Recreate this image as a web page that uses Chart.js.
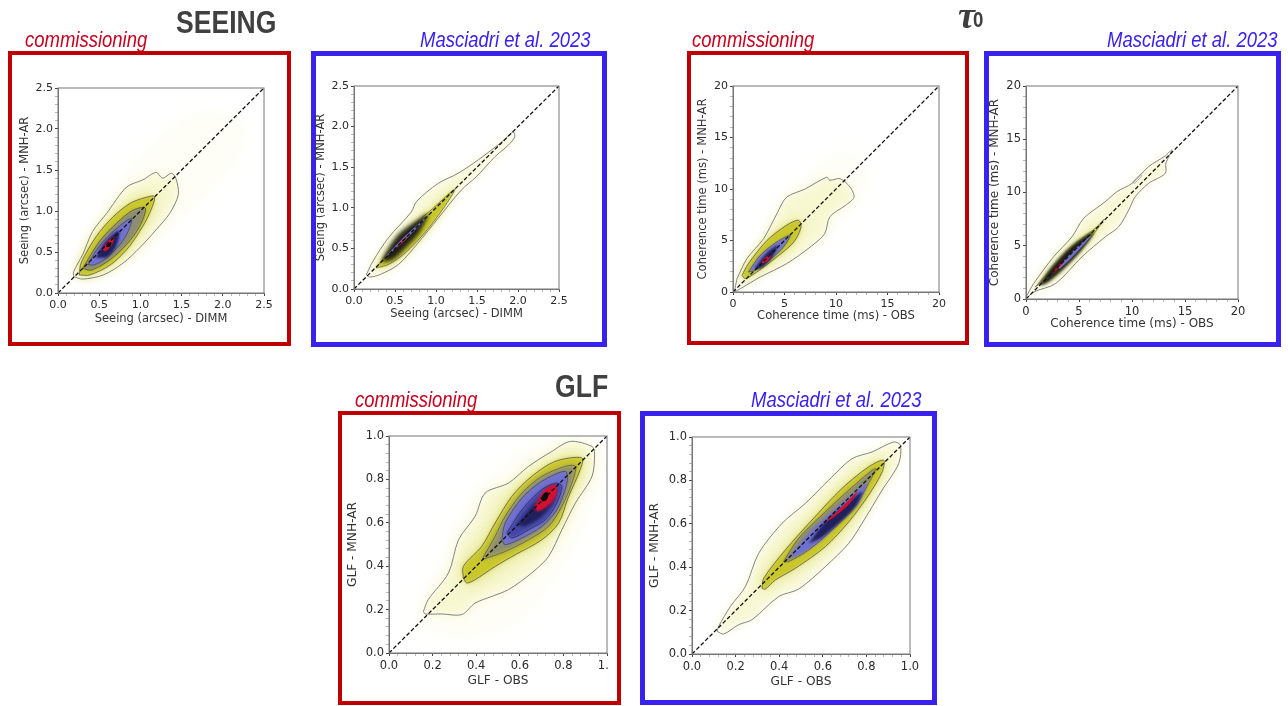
<!DOCTYPE html>
<html>
<head>
<meta charset="utf-8">
<script src="https://cdn.jsdelivr.net/npm/chart.js@4"></script>
<style>
html, body { margin: 0; padding: 0; background: #fff; width: 1288px; height: 706px; overflow: hidden; }
canvas { position: absolute; filter: blur(0.4px); }
.frame { position: absolute; box-sizing: border-box; background: #fff; }
.label { position: absolute; white-space: nowrap; transform-origin: left center; font-family: "Liberation Sans", Arial, sans-serif; line-height: 1; filter: blur(0.3px); }
.com { color: #c8001e; font-style: italic; font-size: 22px; transform: scaleX(0.84); }
.mas { color: #3a22ee; font-style: italic; font-size: 22px; transform: scaleX(0.84); }
.head { color: #404040; font-weight: bold; font-size: 32px; transform: scaleX(0.83); }
.tau { color: #404040; font-weight: bold; font-style: italic; font-size: 38px; font-family: "Liberation Serif", serif; }
.tau0 { color: #404040; font-weight: bold; font-size: 22px; transform: scaleX(0.85); }
</style>
</head>
<body>
<script>
// axis ticks
const seeingLabels = ["0.0", "0.5", "1.0", "1.5", "2.0", "2.5"];
const seeingTicks = [0, 0.5, 1, 1.5, 2, 2.5];
const tauLabels = ["0", "5", "10", "15", "20"];
const tauTicks = [0, 5, 10, 15, 20];
const glfLabels = ["0.0", "0.2", "0.4", "0.6", "0.8", "1.0"];
const glfTicks = [0, 0.2, 0.4, 0.6, 0.8, 1];

// contours, [obs, model]
// seeing, commissioning
const seeingComFaint = [[0.3,0.3],[0.6,1.2],[1.2,1.9],[1.7,2.25],[2.3,2.05],[2.2,1.6],[1.6,0.95],[1.0,0.4]];
const seeingComOuter = [[0.19,0.2],[0.19,0.26],[0.3,0.47],[0.42,0.75],[0.59,0.97],[0.83,1.29],[1.03,1.38],[1.19,1.47],[1.27,1.4],[1.375,1.46],[1.43,1.4],[1.46,1.2],[1.355,0.97],[1.19,0.77],[0.99,0.55],[0.79,0.365],[0.55,0.22],[0.3,0.17]];
const seeingComYellow = [[0.26,0.22],[0.28,0.365],[0.465,0.69],[0.67,0.93],[0.87,1.09],[1.03,1.155],[1.17,1.175],[1.11,0.97],[0.99,0.75],[0.83,0.525],[0.63,0.34],[0.385,0.22]];
const seeingComMid = [[0.3,0.3],[0.505,0.63],[0.71,0.85],[0.91,1.01],[1.06,1.035],[0.99,0.81],[0.83,0.59],[0.63,0.405],[0.405,0.28]];
const seeingComBlue = [[0.365,0.345],[0.485,0.55],[0.67,0.75],[0.89,0.91],[0.85,0.75],[0.75,0.59],[0.585,0.425],[0.445,0.345]];
const seeingComNavy = [[0.46,0.43],[0.57,0.62],[0.74,0.76],[0.71,0.58],[0.6,0.44]];
const seeingComRed = [[0.54,0.53],[0.61,0.64],[0.68,0.68],[0.66,0.6],[0.58,0.51]];
const seeingComCore = [[0.58,0.565],[0.63,0.615],[0.65,0.615],[0.63,0.565]];

// seeing, Masciadri
const seeingMasOuter = [[0.15,0.175],[0.23,0.34],[0.415,0.625],[0.7,0.95],[0.76,1.075],[1.025,1.3],[1.27,1.425],[1.515,1.59],[1.8,1.81],[1.94,1.935],[1.96,1.875],[1.88,1.77],[1.72,1.63],[1.49,1.38],[1.31,1.22],[1.025,0.87],[0.78,0.565],[0.54,0.3],[0.31,0.175],[0.19,0.147]];
const seeingMasYellow = [[0.27,0.26],[0.5,0.565],[0.7,0.77],[0.965,0.995],[1.23,1.23],[1.09,0.995],[0.86,0.69],[0.62,0.44],[0.415,0.3]];
const seeingMasDark = [[0.33,0.33],[0.42,0.5],[0.55,0.68],[0.75,0.83],[0.9,0.92],[0.8,0.7],[0.62,0.5],[0.47,0.36]];
const seeingMasBlue = [[0.36,0.37],[0.6,0.63],[0.9,0.9],[0.62,0.6]];
const seeingMasRed = [[0.5,0.5],[0.62,0.63],[0.66,0.66],[0.58,0.56]];

// tau0, commissioning
const tauComFaint = [[1.5,1.5],[4,8],[8,12.5],[11,14],[13.5,11.5],[11,7],[6,3]];
const tauComOuter = [[0.39,1.29],[1.35,3.24],[2.97,5.18],[4.26,7.6],[5.2,9.2],[7,10],[9.1,11.15],[9.4,10.85],[10.4,11],[11.35,10.2],[11.75,9.2],[10.9,8.4],[9.4,7.3],[8.9,5.66],[7.5,4.37],[5.2,2.75],[2.65,1.46],[0.7,0.32],[0.2,0.1]];
const tauComYellow = [[0.87,1.62],[1.5,2.75],[3.3,5],[5.2,6.47],[6.35,6.96],[6.6,6.3],[5.9,4.85],[4.25,3.4],[2.3,1.94],[1.2,1.3]];
const tauComBlue = [[1.5,1.94],[2.65,3.56],[4.25,4.85],[5.55,5.5],[4.75,4.2],[3.3,2.9],[2.15,2.1]];
const tauComNavy = [[2.1,2.3],[3.2,3.7],[4.3,4.5],[3.7,3.2],[2.7,2.3]];
const tauComRed = [[2.65,2.7],[3.1,3.3],[3.7,3.6],[3.3,2.95]];

// tau0, Masciadri
const tauMasOuter = [[0,0.19],[0.72,1.44],[2.6,3.96],[4.34,5.84],[5.44,7.57],[7.48,9.14],[8.58,10.08],[10,10.86],[11.57,12.43],[13.14,13.44],[13.77,14],[13.2,12.75],[13.14,11.8],[11.57,10.86],[10.3,9.6],[9.69,8.35],[8.74,6.78],[7.48,5.84],[5.28,3.96],[2.77,1.44],[0.72,0.66],[0.1,0.1]];
const tauMasYellow = [[0.88,1.13],[2.45,2.86],[4.34,4.9],[6.7,6.78],[7.33,7.47],[6.54,6.31],[4.97,4.43],[3.08,2.7],[1.5,1.6]];
const tauMasDark = [[1.2,1.3],[2.4,3],[4.2,4.9],[5.9,6.1],[6.4,6.2],[5,4.3],[3.2,2.5],[1.8,1.4]];
const tauMasBlue = [[3,3],[4.8,4.85],[6.2,6],[5,4.6],[3.2,2.85]];
const tauMasRed = [[2.4,2.45],[3.5,3.55],[3.7,3.6],[2.6,2.45]];
const tauMasIsland = [[10.1,11],[10.8,11.7],[10.9,11.55],[10.2,10.85]];

// GLF, commissioning
const glfComFaint = [[0.1,0.12],[0.25,0.5],[0.38,0.75],[0.62,0.95],[0.9,1],[1,0.9],[0.92,0.6],[0.75,0.3],[0.55,0.1],[0.3,0.05]];
const glfComOuter = [[0.158,0.192],[0.18,0.246],[0.273,0.369],[0.319,0.522],[0.395,0.63],[0.441,0.737],[0.548,0.783],[0.64,0.86],[0.747,0.929],[0.832,0.975],[0.931,0.952],[0.943,0.922],[0.931,0.814],[0.855,0.691],[0.793,0.568],[0.732,0.445],[0.655,0.369],[0.548,0.292],[0.472,0.261],[0.395,0.23],[0.334,0.177],[0.242,0.18],[0.165,0.18]];
const glfComYellow = [[0.341,0.346],[0.341,0.399],[0.426,0.492],[0.487,0.599],[0.564,0.722],[0.655,0.814],[0.763,0.883],[0.885,0.899],[0.877,0.845],[0.824,0.722],[0.778,0.599],[0.701,0.522],[0.579,0.453],[0.487,0.399],[0.395,0.338],[0.357,0.323]];
const glfComMid = [[0.426,0.43],[0.487,0.538],[0.533,0.63],[0.61,0.737],[0.701,0.814],[0.809,0.86],[0.855,0.86],[0.839,0.783],[0.793,0.676],[0.732,0.584],[0.64,0.522],[0.533,0.468]];
const glfComBlue = [[0.518,0.522],[0.533,0.599],[0.61,0.714],[0.701,0.791],[0.809,0.837],[0.816,0.783],[0.77,0.66],[0.701,0.584],[0.61,0.53],[0.533,0.499]];
const glfComDeep = [[0.541,0.553],[0.61,0.66],[0.701,0.753],[0.77,0.783],[0.793,0.768],[0.77,0.691],[0.717,0.614],[0.64,0.568],[0.564,0.53]];
const glfComNavy = [[0.587,0.591],[0.655,0.676],[0.732,0.745],[0.763,0.76],[0.755,0.699],[0.701,0.63],[0.625,0.584]];
const glfComRed = [[0.668,0.676],[0.701,0.737],[0.747,0.776],[0.77,0.768],[0.763,0.714],[0.717,0.668],[0.678,0.653]];
const glfComCore = [[0.694,0.714],[0.717,0.74],[0.732,0.737],[0.724,0.707],[0.704,0.699]];

// GLF, Masciadri
const glfMasOuter = [[0.115,0.104],[0.122,0.127],[0.176,0.219],[0.245,0.311],[0.306,0.464],[0.413,0.602],[0.52,0.694],[0.627,0.801],[0.734,0.9],[0.826,0.931],[0.925,0.977],[0.956,0.962],[0.948,0.877],[0.872,0.755],[0.78,0.602],[0.719,0.51],[0.612,0.403],[0.489,0.299],[0.398,0.265],[0.275,0.158],[0.214,0.135],[0.145,0.092]];
const glfMasYellow = [[0.321,0.303],[0.329,0.349],[0.428,0.479],[0.55,0.617],[0.688,0.763],[0.81,0.862],[0.879,0.893],[0.872,0.839],[0.81,0.732],[0.719,0.609],[0.612,0.495],[0.474,0.395],[0.382,0.341],[0.336,0.299]];
const glfMasMid = [[0.42,0.426],[0.489,0.533],[0.596,0.64],[0.719,0.755],[0.841,0.855],[0.81,0.786],[0.734,0.663],[0.642,0.571],[0.535,0.479],[0.443,0.426]];
const glfMasBlue = [[0.443,0.441],[0.535,0.556],[0.642,0.655],[0.749,0.746],[0.803,0.786],[0.765,0.694],[0.688,0.617],[0.596,0.525],[0.505,0.464]];
const glfMasNavy = [[0.535,0.51],[0.612,0.61],[0.719,0.701],[0.78,0.747],[0.749,0.678],[0.673,0.602],[0.589,0.533]];
const glfMasRed = [[0.6,0.6],[0.67,0.66],[0.76,0.75],[0.72,0.69],[0.65,0.63]];

const PALE = "rgba(240,240,150,0.08)";
const SOFT = "rgba(238,238,150,0.4)";
const HALO = "rgba(205,205,50,0.62)";
const OLIVE = "#c9c72a";
const GREY = "#8d8d72";
const BLUE = "#6f70d2";
const DEEP = "#4346a8";
const NAVY = "#20205c";
const RED = "#d41030";
const BLACK = "#0a0a0a";
const DARK = "#1e1e14";

const fill = (pts, color, blur) => ({pts, color, blur});
const line = (pts, color, width) => ({pts, stroke: color, width});

const frames = [
    {l: 8, t: 51, r: 291, b: 346, c: "#c00000", w: 4},
    {l: 311, t: 51, r: 607, b: 347, c: "#3a22ee", w: 5},
    {l: 687, t: 51, r: 969, b: 345, c: "#c00000", w: 4},
    {l: 984, t: 51, r: 1281, b: 347, c: "#3a22ee", w: 5},
    {l: 338, t: 411, r: 621, b: 705, c: "#c00000", w: 4},
    {l: 640, t: 411, r: 937, b: 705, c: "#3a22ee", w: 5}
];

const panels = [
    {l: 58, t: 88, r: 264, b: 293, padR: 14, font: 11, titleFont: 11.5, max: 2.5, major: seeingTicks, labels: seeingLabels,
     xTitle: "Seeing (arcsec) - DIMM", yTitle: "Seeing (arcsec) - MNH-AR", gapX: 26, gapY: 33,
     layers: [fill(seeingComFaint, PALE, 7), fill(seeingComOuter, SOFT, 5), fill(seeingComYellow, HALO, 6),
              fill(seeingComYellow, OLIVE, 1.2), fill(seeingComMid, GREY, 1.2), fill(seeingComBlue, BLUE, 1),
              fill(seeingComNavy, NAVY, 1.2), fill(seeingComRed, RED, 0.7), fill(seeingComCore, BLACK, 0.4),
              line(seeingComOuter, "#666", 0.8), line(seeingComYellow, "#444", 0.7), line(seeingComMid, "#444", 0.7), line(seeingComBlue, "#334", 0.6)]},
    {l: 354, t: 86, r: 559, b: 289, padR: 14, font: 11, titleFont: 11.5, max: 2.5, major: seeingTicks, labels: seeingLabels,
     xTitle: "Seeing (arcsec) - DIMM", yTitle: "Seeing (arcsec) - MNH-AR", gapX: 25, gapY: 33,
     layers: [fill(seeingMasOuter, SOFT, 4), fill(seeingMasYellow, HALO, 5), fill(seeingMasYellow, OLIVE, 1),
              fill(seeingMasDark, DARK, 2), fill(seeingMasBlue, BLUE, 0.6), fill(seeingMasRed, RED, 0.4),
              line(seeingMasOuter, "#666", 0.8), line(seeingMasYellow, "#444", 0.6)]},
    {l: 733, t: 86, r: 939, b: 292, padR: 14, font: 11, titleFont: 11.6, max: 20, major: tauTicks, labels: tauLabels,
     xTitle: "Coherence time (ms) - OBS", yTitle: "Coherence time (ms) - MNH-AR", gapX: 24, gapY: 30,
     layers: [fill(tauComFaint, PALE, 7), fill(tauComOuter, SOFT, 5), fill(tauComYellow, HALO, 5),
              fill(tauComYellow, OLIVE, 1), fill(tauComBlue, BLUE, 1), fill(tauComNavy, NAVY, 1), fill(tauComRed, RED, 0.6),
              line(tauComOuter, "#666", 0.8), line(tauComYellow, "#444", 0.7), line(tauComBlue, "#334", 0.6)]},
    {l: 1026, t: 86, r: 1238, b: 299, padR: 14, font: 11.5, titleFont: 12, max: 20, major: tauTicks, labels: tauLabels,
     xTitle: "Coherence time (ms) - OBS", yTitle: "Coherence time (ms) - MNH-AR", gapX: 25, gapY: 31,
     layers: [fill(tauMasOuter, SOFT, 4), fill(tauMasYellow, HALO, 5), fill(tauMasYellow, OLIVE, 1),
              fill(tauMasDark, DARK, 1.5), fill(tauMasBlue, BLUE, 0.7), fill(tauMasRed, RED, 0.4),
              line(tauMasOuter, "#666", 0.8), line(tauMasYellow, "#444", 0.6), line(tauMasIsland, "#888", 0.7)]},
    {l: 389, t: 436, r: 607, b: 653, padR: 1, font: 11.5, titleFont: 12.2, max: 1, major: glfTicks, labels: glfLabels,
     xTitle: "GLF - OBS", yTitle: "GLF - MNH-AR", gapX: 27, gapY: 35,
     layers: [fill(glfComFaint, PALE, 8), fill(glfComOuter, SOFT, 6), fill(glfComYellow, HALO, 8),
              fill(glfComYellow, OLIVE, 1.5), fill(glfComMid, GREY, 2), fill(glfComBlue, BLUE, 1.5),
              fill(glfComDeep, DEEP, 1.5), fill(glfComNavy, NAVY, 1.5), fill(glfComRed, RED, 1), fill(glfComCore, BLACK, 0.7),
              line(glfComOuter, "#666", 0.8), line(glfComYellow, "#444", 0.7), line(glfComMid, "#444", 0.6), line(glfComBlue, "#334", 0.6), line(glfComDeep, "#223", 0.6)]},
    {l: 692, t: 437, r: 910, b: 654, padR: 14, font: 11.5, titleFont: 12.2, max: 1, major: glfTicks, labels: glfLabels,
     xTitle: "GLF - OBS", yTitle: "GLF - MNH-AR", gapX: 27, gapY: 36,
     layers: [fill(glfMasOuter, SOFT, 5), fill(glfMasYellow, HALO, 7), fill(glfMasYellow, OLIVE, 1.2),
              fill(glfMasMid, GREY, 1.2), fill(glfMasBlue, BLUE, 1), fill(glfMasNavy, NAVY, 1.2), fill(glfMasRed, RED, 0.7),
              line(glfMasOuter, "#666", 0.8), line(glfMasYellow, "#444", 0.7), line(glfMasMid, "#444", 0.6)]}
];

const captions = [
    {cls: "head", text: "SEEING", x: 176, y: 6},
    {cls: "com", text: "commissioning", x: 25, y: 29},
    {cls: "mas", text: "Masciadri et al. 2023", x: 420, y: 29},
    {cls: "tau", text: "τ", x: 958, y: -4},
    {cls: "tau0", text: "0", x: 973, y: 9},
    {cls: "com", text: "commissioning", x: 692, y: 29},
    {cls: "mas", text: "Masciadri et al. 2023", x: 1107, y: 29},
    {cls: "head", text: "GLF", x: 555, y: 370},
    {cls: "com", text: "commissioning", x: 355, y: 389},
    {cls: "mas", text: "Masciadri et al. 2023", x: 751, y: 389}
];

for (const f of frames) {
    let d = document.createElement("div");
    d.className = "frame";
    d.style.cssText = `left:${f.l}px;top:${f.t}px;width:${f.r - f.l}px;height:${f.b - f.t}px;border:${f.w}px solid ${f.c}`;
    document.body.appendChild(d);
}
for (const c of captions) {
    let d = document.createElement("div");
    d.className = "label " + c.cls;
    d.textContent = c.text;
    d.style.left = c.x + "px";
    d.style.top = c.y + "px";
    document.body.appendChild(d);
}

// blur each filled contour on its own, datasets are drawn last to first
const densityBlur = {
    id: "densityBlur",
    beforeDatasetsDraw(chart) {
        let sets = chart.data.datasets;
        chart.ctx.filter = blurOf(sets[sets.length - 1]);
    },
    afterDatasetDraw(chart, args) {
        chart.ctx.filter = args.index > 0 ? blurOf(chart.data.datasets[args.index - 1]) : "none";
    },
    afterDatasetsDraw(chart) {
        chart.ctx.filter = "none";
    }
};
function blurOf(set) {
    return set.blurPx ? `blur(${set.blurPx}px)` : "none";
}

const plotBox = {
    id: "plotBox",
    afterDraw(chart) {
        let a = chart.chartArea, ctx = chart.ctx;
        ctx.save();
        ctx.strokeStyle = "#777";
        ctx.lineWidth = 1;
        ctx.strokeRect(a.left, a.top, a.right - a.left, a.bottom - a.top);
        ctx.restore();
    }
};

function closed(pts) {
    return pts.concat([pts[0]]).map(p => ({x: p[0], y: p[1]}));
}

function buildSets(p) {
    let sets = [];
    sets.push({data: [{x: 0, y: 0}, {x: p.max, y: p.max}], showLine: true, fill: false, pointRadius: 0,
               borderColor: "#111", borderWidth: 1.3, borderDash: [4, 2.2]});
    for (let i = p.layers.length - 1; i >= 0; i--) {
        let l = p.layers[i];
        if (l.stroke) {
            sets.push({data: closed(l.pts), showLine: true, fill: false, pointRadius: 0, tension: 0.3,
                       borderColor: l.stroke, borderWidth: l.width});
        } else {
            sets.push({data: closed(l.pts), showLine: true, fill: "shape", pointRadius: 0, tension: 0.3,
                       borderWidth: 0, backgroundColor: l.color, blurPx: l.blur});
        }
    }
    return sets;
}

function axis(p, title, which, boxSize) {
    let minorStep = (p.major[1] - p.major[0]) / 5;
    return {
        type: "linear", min: 0, max: p.max,
        afterBuildTicks(s) {
            let out = [];
            for (let i = 0; i < p.major.length - 1; i++) {
                for (let k = 0; k < 5; k++) out.push({value: p.major[i] + k * minorStep});
            }
            out.push({value: p.max});
            s.ticks = out;
        },
        afterFit(s) {
            s.paddingLeft = s.paddingRight = s.paddingTop = s.paddingBottom = 0;
            if (which == "x") s.height = boxSize;
            else s.width = boxSize;
        },
        ticks: {
            autoSkip: false, maxRotation: 0, minRotation: 0, padding: which == "x" ? 3 : 2,
            color: "#2a2a2a", font: {family: "DejaVu Sans", size: p.font},
            callback(v) {
                let i = p.major.findIndex(m => Math.abs(m - v) < 1e-6);
                return i >= 0 ? p.labels[i] : "";
            }
        },
        grid: {
            drawOnChartArea: false, drawTicks: true, tickLength: 3,
            tickColor: c => c.tick && c.tick.label ? "#444" : "#999",
            tickWidth: c => c.tick && c.tick.label ? 1 : 0.7
        },
        border: {color: "#777", width: 1},
        title: {
            display: true, text: title, color: "#333", padding: 0,
            font: {family: "DejaVu Sans", size: p.titleFont, lineHeight: 1}
        }
    };
}

for (const p of panels) {
    let padTop = 10;
    let axisW = Math.ceil(p.gapY + p.titleFont / 2);
    let axisH = Math.ceil(p.gapX + p.titleFont / 2);
    let cv = document.createElement("canvas");
    cv.width = axisW + (p.r - p.l) + p.padR;
    cv.height = padTop + (p.b - p.t) + axisH;
    cv.style.left = (p.l - axisW) + "px";
    cv.style.top = (p.t - padTop) + "px";
    document.body.appendChild(cv);

    new Chart(cv.getContext("2d"), {
        type: "scatter",
        data: {datasets: buildSets(p)},
        plugins: [densityBlur, plotBox],
        options: {
            responsive: false,
            animation: false,
            layout: {padding: {left: 0, top: padTop, right: p.padR, bottom: 0}},
            plugins: {legend: {display: false}, tooltip: {enabled: false}},
            scales: {x: axis(p, p.xTitle, "x", axisH), y: axis(p, p.yTitle, "y", axisW)}
        }
    });
}
</script>
</body>
</html>
